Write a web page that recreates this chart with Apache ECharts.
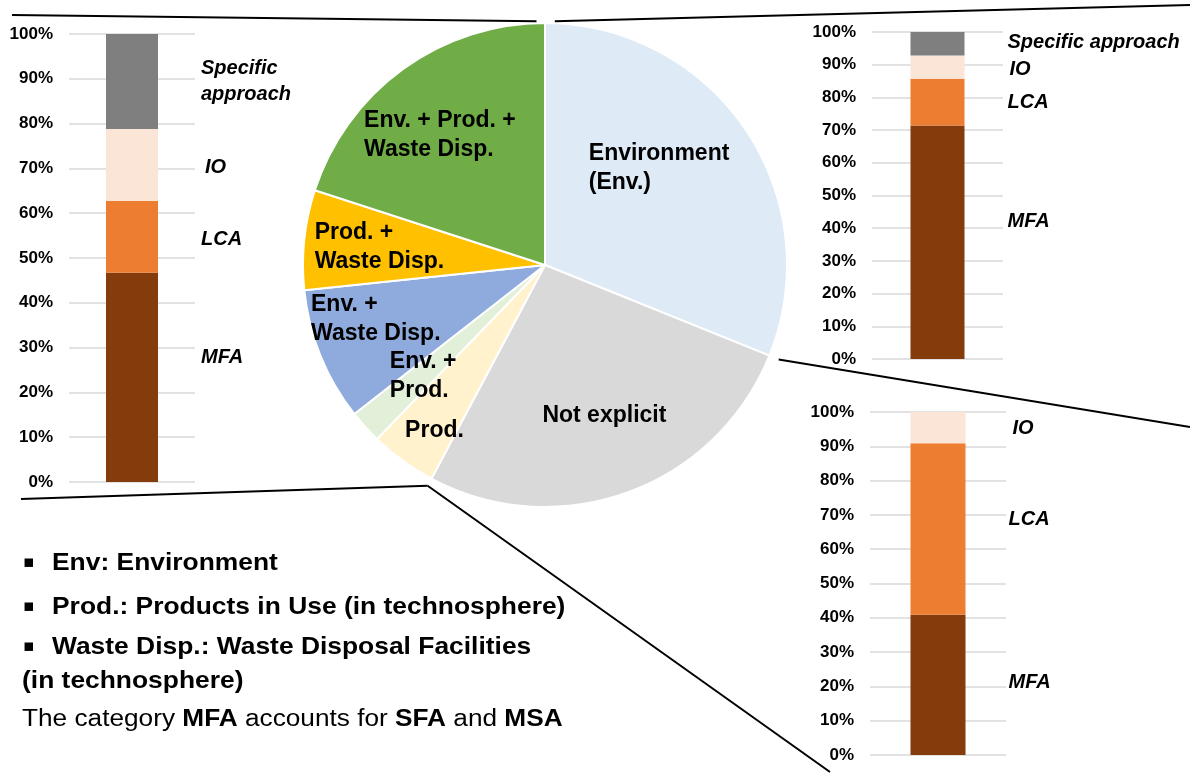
<!DOCTYPE html>
<html lang="en">
<head>
    <meta charset="UTF-8">
    <title>System boundaries and methods</title>
    <style>
        html, body { margin: 0; padding: 0; background: #fff; }
        #main { width: 1190px; height: 774px; }
    </style>
</head>
<body>
    <div id="main"></div>
    <script src="https://cdn.jsdelivr.net/npm/echarts@6/dist/echarts.min.js"></script>
    <script>
        // pie: number of studies by system boundary (clockwise from 12 o'clock)
        var boundaryNames = ['Environment\n(Env.)', 'Not explicit', 'Prod.', 'Env. +\nProd.',
            'Env. +\nWaste Disp.', 'Prod. +\nWaste Disp.', 'Env. + Prod. +\nWaste Disp.'];
        var boundaryCounts = [14, 12, 2, 1, 4, 3, 9];
        var boundaryColors = ['#DEEBF7', '#D9D9D9', '#FFF2CC', '#E2F0D9', '#8FAADC', '#FFC000', '#70AD47'];

        // stacked method bars (%)
        var methods = ['MFA', 'LCA', 'IO', 'Specific approach'];
        var methodColors = ['#843C0C', '#ED7D31', '#FBE5D6', '#7F7F7F'];
        var otherShares = [46.7, 16.0, 16.1, 21.2];      // left bar
        var envShares = [71.4, 14.3, 7.1, 7.2];          // top right bar
        var notExplicitShares = [40.9, 50.0, 9.1, 0];    // bottom right bar
        var pctTicks = [0, 100, 10];

        var font = 'Liberation Sans, Arial, sans-serif';
        var cx = 545, cy = 265, R = 242;

        // label nudges inside the pie (px, relative to default inside anchor)
        var labelNudge = [[-59, -28], [-45, 34], [-67, 65], [-63, 28], [-119, 8], [-107, -5], [-108, -30]];

        var total = boundaryCounts.reduce(function (a, b) { return a + b; }, 0);
        function edgeAngle(i) { // cumulative angle (deg) after slice i
            var s = 0;
            for (var k = 0; k <= i; k++) s += boundaryCounts[k];
            return s / total * 360;
        }
        function piePoint(deg, rr) {
            var a = deg * Math.PI / 180;
            return [cx + rr * Math.sin(a), cy - rr * Math.cos(a)];
        }

        var grids = [
            { left: 69, top: 34, width: 126, height: 448 },
            { left: 872, top: 32, width: 131, height: 327 },
            { left: 870, top: 412, width: 136, height: 343 }
        ];
        var barSets = [otherShares, envShares, notExplicitShares];
        var barWidths = [52, 54, 55];
        var labelOffsets = [
            [[0, -20], [0, 3], [4, 2], [0, 0]],
            [[0, -21], [0, 0], [2, 2], [0, -1]],
            [[0, -2], [0, -9], [4, 1], [0, 0]]
        ];

        var xAxes = [], yAxes = [], series = [];
        grids.forEach(function (g, gi) {
            xAxes.push({ type: 'category', gridIndex: gi, data: [''], show: false });
            yAxes.push({
                type: 'value', gridIndex: gi, min: pctTicks[0], max: pctTicks[1], interval: pctTicks[2],
                axisLine: { show: false }, axisTick: { show: false },
                axisLabel: { formatter: '{value}%', margin: 16, fontSize: 17, fontWeight: 'bold', color: '#000', fontFamily: font },
                splitLine: { lineStyle: { color: '#D9D9D9', width: 1.5 } }
            });
            methods.forEach(function (m, mi) {
                var v = barSets[gi][mi];
                series.push({
                    type: 'bar', xAxisIndex: gi, yAxisIndex: gi, stack: 'g' + gi,
                    barWidth: barWidths[gi], data: [v],
                    itemStyle: { color: methodColors[mi] },
                    label: {
                        show: v > 0, position: 'right', distance: 43,
                        offset: labelOffsets[gi][mi],
                        formatter: (gi === 0 && mi === 3) ? 'Specific\napproach' : m,
                        fontSize: 20, fontWeight: 'bold', fontStyle: 'italic', color: '#000',
                        fontFamily: font, lineHeight: 26, align: 'left'
                    }
                });
            });
        });

        series.push({
            type: 'pie', center: [cx, cy], radius: R, startAngle: 90, clockwise: true,
            avoidLabelOverlap: false,
            itemStyle: { borderColor: '#fff', borderWidth: 2 },
            label: { show: true, position: 'inside', fontSize: 23, fontWeight: 'bold', color: '#000', fontFamily: font, lineHeight: 29 },
            labelLayout: function (p) {
                var n = labelNudge[p.dataIndex];
                return { dx: n[0], dy: n[1], align: 'left' };
            },
            emphasis: { scale: false },
            data: boundaryNames.map(function (n, i) {
                return { name: n, value: boundaryCounts[i], itemStyle: { color: boundaryColors[i] } };
            })
        });

        // connector lines from pie slices to the bars
        var topL = piePoint(-2, 244), topR = piePoint(2.3, 244);
        var envEnd = piePoint(edgeAngle(0), 252);
        var notExpEnd = piePoint(edgeAngle(1), 250);
        function seg(a, b) {
            return { type: 'line', z: 10, shape: { x1: a[0], y1: a[1], x2: b[0], y2: b[1] }, style: { stroke: '#000', lineWidth: 2 } };
        }
        function txt(x, y, text, f, sx, extra) {
            var el = { type: 'text', x: x, y: y, scaleX: sx || 1, style: { text: text, font: f, fill: '#000', verticalAlign: 'middle' } };
            if (extra) el.style.rich = extra;
            return el;
        }
        var boldF = 'bold 24px ' + font;
        var bulletF = '17px DejaVu Sans';
        var graphics = [
            seg([12, 15], topL), seg([21, 499], notExpEnd),
            seg(topR, [1190, 5]), seg(envEnd, [1190, 427]), seg(notExpEnd, [830, 772]),
            txt(23, 563, '\u25AA', bulletF), txt(52, 563, 'Env: Environment', boldF, 1.1),
            txt(23, 607, '\u25AA', bulletF), txt(52, 607, 'Prod.: Products in Use (in technosphere)', boldF, 1.1),
            txt(23, 647, '\u25AA', bulletF), txt(52, 647, 'Waste Disp.: Waste Disposal Facilities', boldF, 1.1),
            txt(22, 681, '(in technosphere)', boldF, 1.1),
            txt(22, 720, 'The category {b|MFA} accounts for {b|SFA} and {b|MSA}', '23px ' + font, 1.14,
                { b: { font: 'bold 23px ' + font, fill: '#000' } })
        ];

        var myecharts = echarts.init(document.getElementById('main'));
        myecharts.setOption({
            animation: false,
            textStyle: { fontFamily: font },
            grid: grids,
            xAxis: xAxes,
            yAxis: yAxes,
            series: series,
            graphic: graphics
        });
    </script>
</body>
</html>
